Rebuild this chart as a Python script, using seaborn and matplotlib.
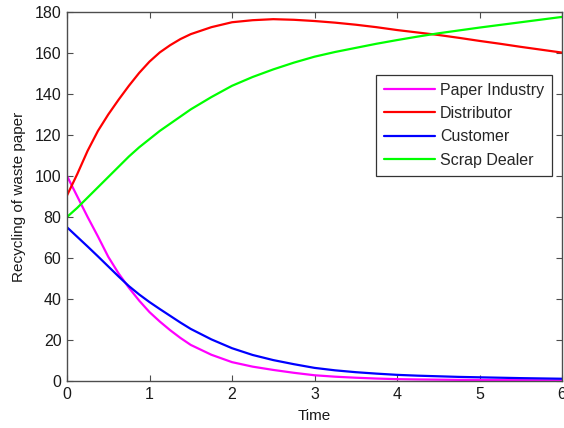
import numpy as np
import pandas as pd
import matplotlib
matplotlib.use("Agg")
import matplotlib.pyplot as plt
import seaborn as sns

# Time grid (finer where the curves bend most) and the four recycling trajectories
time = [0.0, 0.125, 0.25, 0.375, 0.5, 0.625, 0.75, 0.875, 1.0, 1.125, 1.25, 1.375,
        1.5, 1.75, 2.0, 2.25, 2.5, 2.75, 3.0, 3.25, 3.5, 3.75, 4.0, 4.25, 4.5,
        4.75, 5.0, 5.25, 5.5, 5.75, 6.0]

paper_industry = [100, 90, 80, 70.5, 60.6, 52.5, 45.5, 39.2, 33.6, 29, 24.8, 21,
                  17.6, 12.8, 9.2, 7, 5.4, 4, 2.8, 2.1, 1.6, 1.2, 0.9, 0.75, 0.65,
                  0.55, 0.5, 0.45, 0.4, 0.35, 0.3]
distributor = [90.5, 101, 112.3, 122, 130, 137.2, 144, 150.3, 155.8, 160.3, 163.8,
               166.8, 169.2, 172.6, 175, 176, 176.5, 176.2, 175.6, 174.8, 173.8,
               172.6, 171.2, 170, 168.8, 167.4, 165.9, 164.5, 163, 161.6, 160.2]
customer = [75, 70.3, 65.6, 60.8, 55.9, 51, 46.3, 42.2, 38.5, 35.1, 31.8, 28.5,
            25.4, 20.3, 16, 12.7, 10.2, 8.2, 6.4, 5.2, 4.3, 3.6, 3.0, 2.6, 2.3,
            2.0, 1.8, 1.6, 1.4, 1.25, 1.1]
scrap_dealer = [80, 84.5, 89.5, 94.5, 99.5, 104.5, 109.5, 114, 118, 122, 125.5,
                129, 132.5, 138.5, 144, 148.3, 152, 155.3, 158.2, 160.5, 162.5,
                164.5, 166.3, 168, 169.6, 171, 172.4, 173.7, 175, 176.3, 177.6]

series_names = ["Paper Industry", "Distributor", "Customer", "Scrap Dealer"]
series_values = [paper_industry, distributor, customer, scrap_dealer]
series_colors = ["#FF00FF", "#FF0000", "#0000FF", "#00FF00"]

x_ticks = [0, 1, 2, 3, 4, 5, 6]
y_ticks = [0, 20, 40, 60, 80, 100, 120, 140, 160, 180]

df = pd.concat(
    [pd.DataFrame({"Time": time, "Value": vals, "Series": name})
     for name, vals in zip(series_names, series_values)],
    ignore_index=True,
)

sns.set_theme(style="white")
plt.rcParams["font.family"] = ["Liberation Sans", "DejaVu Sans"]

fig = plt.figure(figsize=(5.64, 4.28), dpi=100, facecolor="white")
ax = fig.add_axes([67 / 564, 47 / 428, 495 / 564, 369 / 428])

sns.lineplot(
    data=df, x="Time", y="Value", hue="Series",
    hue_order=series_names, palette=dict(zip(series_names, series_colors)),
    linewidth=1.6, ax=ax, legend=False, sort=False,
)

ax.set_xlim(0, 6)
ax.set_ylim(0, 180)
ax.set_xticks(x_ticks)
ax.set_yticks(y_ticks)
ax.set_xlabel("Time", fontsize=11, color="#1a1a1a", labelpad=5)
ax.set_ylabel("Recycling of waste paper", fontsize=11, color="#1a1a1a", labelpad=6)

spine_color = "#4d4d4d"
for sp in ax.spines.values():
    sp.set_visible(True)
    sp.set_color(spine_color)
    sp.set_linewidth(1.0)

ax.tick_params(axis="both", direction="in", length=4, width=0.8,
               color=spine_color, labelsize=11.5, labelcolor="#1a1a1a",
               top=True, right=True, bottom=True, left=True, pad=4)

handles = [plt.Line2D([], [], color=c, linewidth=1.6) for c in series_colors]
leg = ax.legend(
    handles, series_names, loc="upper right", bbox_to_anchor=(0.98, 0.83),
    fontsize=11.5, frameon=True, fancybox=False, shadow=False,
    handlelength=3.2, handletextpad=0.3, labelspacing=0.52,
    borderpad=0.5, borderaxespad=0.0,
)
leg.get_frame().set_edgecolor("#333333")
leg.get_frame().set_linewidth(0.9)
leg.get_frame().set_facecolor("white")
leg.get_frame().set_alpha(1.0)

fig.savefig("out.png", dpi=100, facecolor="white")
